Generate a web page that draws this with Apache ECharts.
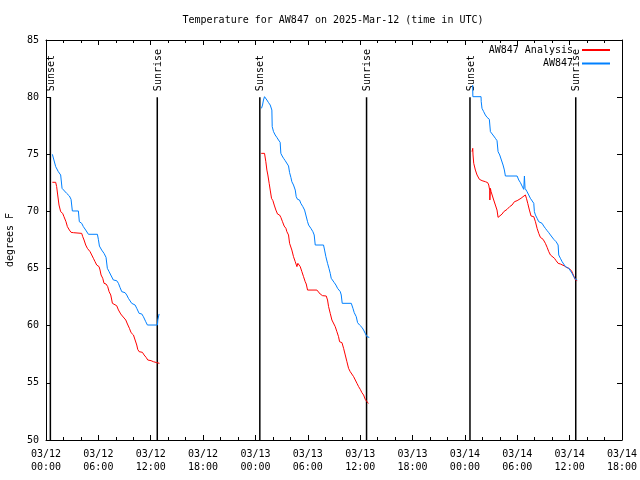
<!DOCTYPE html>
<html>
<head>
<meta charset="utf-8">
<script src="https://cdn.jsdelivr.net/npm/echarts@6/dist/echarts.min.js"></script>
<style>html,body{margin:0;padding:0;background:#fff}#c{width:640px;height:480px}</style>
</head>
<body>
<div id="c"></div>
<script>
// time in hours since 03/12 00:00 UTC, temperature in degrees F
var xTickLabels = ['03/12\n00:00','03/12\n06:00','03/12\n12:00','03/12\n18:00','03/13\n00:00','03/13\n06:00','03/13\n12:00','03/13\n18:00','03/14\n00:00','03/14\n06:00','03/14\n12:00','03/14\n18:00'];
var yTickLabels = ['50','55','60','65','70','75','80','85'];
var eventTimes = [0.5, 12.75, 24.5, 36.73, 48.58, 60.7];
var eventLabels = ['Sunset','Sunrise','Sunset','Sunrise','Sunset','Sunrise'];

var analysisN1 = [[0.73,72.55],[1.11,72.55],[1.22,72.17],[1.34,71.44],[1.49,70.56],[1.68,69.98],[1.91,69.83],[2.06,69.54],[2.29,69.10],[2.45,68.67],[2.68,68.37],[2.87,68.17],[3.14,68.14],[4.09,68.08],[4.21,67.79],[4.36,67.50],[4.55,67.06],[4.74,66.77],[5.05,66.48],[5.24,66.19],[5.43,65.90],[5.62,65.60],[5.81,65.31],[6.08,65.17],[6.19,64.88],[6.31,64.44],[6.50,64.15],[6.65,63.71],[6.88,63.65],[7.07,63.42],[7.23,62.98],[7.42,62.69],[7.61,61.96],[7.72,61.81],[8.10,61.75],[8.30,61.38],[8.56,61.03],[8.75,60.85],[8.95,60.79],[9.14,60.50],[9.33,60.15],[9.56,59.77],[9.75,59.39],[10.02,59.19],[10.21,58.75],[10.40,58.31],[10.51,57.93],[10.67,57.73],[11.05,57.67],[11.24,57.44],[11.47,57.23],[11.66,57.00],[12.04,56.94],[12.31,56.85],[12.69,56.77],[13.00,56.71]];
var observedN1 = [[0.73,75.0],[0.84,75.0],[1.11,73.92],[1.41,73.48],[1.68,73.19],[1.80,73.04],[1.84,72.02],[1.99,71.87],[2.37,71.58],[2.68,71.35],[2.87,71.06],[3.02,70.04],[3.71,70.04],[3.82,69.10],[4.09,68.96],[4.28,68.67],[4.55,68.37],[4.86,68.0],[5.89,68.0],[6.00,67.56],[6.12,66.97],[6.38,66.62],[6.65,66.33],[6.88,65.98],[7.03,65.02],[7.23,64.73],[7.42,64.44],[7.72,64.0],[8.10,63.94],[8.30,63.71],[8.49,63.33],[8.68,62.98],[9.06,62.89],[9.25,62.69],[9.44,62.40],[9.82,61.96],[10.21,61.81],[10.40,61.52],[10.67,61.08],[10.97,61.03],[11.16,60.79],[11.43,60.35],[11.62,60.06],[12.77,60.06],[12.81,60.50],[12.96,61.03]];

var analysisN2 = [[24.66,75.08],[25.04,75.08],[25.19,74.35],[25.31,73.62],[25.42,73.19],[25.57,72.46],[25.69,71.87],[25.84,71.15],[26.00,70.94],[26.15,70.56],[26.34,70.12],[26.53,69.77],[26.76,69.69],[26.91,69.48],[27.10,69.10],[27.29,68.72],[27.49,68.52],[27.60,68.23],[27.79,67.94],[27.91,67.21],[28.06,67.06],[28.17,66.62],[28.36,66.04],[28.56,65.60],[28.75,65.17],[28.86,65.46],[29.01,65.60],[29.13,65.17],[29.32,64.73],[29.51,64.29],[29.70,63.85],[29.82,63.65],[29.97,63.12],[31.04,63.12],[31.23,62.98],[31.42,62.77],[31.69,62.63],[32.11,62.60],[32.26,62.25],[32.38,61.67],[32.57,61.08],[32.76,60.50],[32.95,60.35],[33.14,59.92],[33.33,59.48],[33.52,59.04],[33.64,58.60],[33.91,58.52],[34.10,58.02],[34.29,57.44],[34.48,56.85],[34.67,56.27],[34.86,55.98],[35.06,55.83],[35.25,55.54],[35.44,55.25],[35.63,54.96],[35.82,54.67],[36.01,54.43],[36.20,54.14],[36.39,53.94],[36.58,53.56],[36.77,53.35],[36.96,53.21]];
var observedN2 = [[24.69,79.02],[24.75,79.02],[24.81,79.31],[24.92,79.75],[25.04,80.04],[25.31,79.75],[25.50,79.52],[25.69,79.31],[25.88,78.87],[25.92,77.42],[26.07,76.98],[26.26,76.69],[26.45,76.48],[26.64,76.25],[26.83,76.05],[26.91,75.08],[27.06,74.85],[27.22,74.65],[27.41,74.44],[27.60,74.27],[27.79,73.98],[27.91,73.40],[28.06,72.98],[28.17,72.60],[28.36,72.31],[28.56,71.87],[28.67,71.29],[28.82,71.06],[29.05,71.00],[29.20,70.71],[29.43,70.42],[29.63,70.12],[29.82,69.98],[29.97,69.10],[30.09,68.81],[30.35,68.52],[30.58,68.23],[30.73,67.94],[30.85,67.06],[31.80,67.06],[31.92,66.62],[32.07,66.04],[32.26,65.46],[32.42,65.02],[32.57,64.58],[32.68,64.15],[32.84,64.00],[33.03,63.77],[33.22,63.56],[33.41,63.27],[33.72,62.98],[33.83,62.69],[33.94,61.96],[34.98,61.96],[35.17,61.52],[35.32,61.14],[35.55,60.79],[35.70,60.27],[35.93,60.06],[36.20,59.86],[36.39,59.62],[36.58,59.33],[36.77,59.04],[37.04,58.98]];

var analysisN3 = [[48.82,75.23],[48.90,75.52],[48.93,74.94],[49.01,74.21],[49.20,73.62],[49.39,73.19],[49.66,72.81],[49.97,72.69],[50.35,72.60],[50.61,72.52],[50.73,72.31],[50.84,71.87],[50.86,71.00],[50.92,72.02],[51.00,71.73],[51.11,71.58],[51.30,71.00],[51.49,70.56],[51.68,70.12],[51.80,69.48],[51.99,69.48],[52.26,69.77],[52.45,69.98],[52.64,70.12],[52.83,70.18],[53.13,70.42],[53.40,70.56],[53.67,70.85],[53.98,70.94],[54.17,71.06],[54.43,71.15],[54.66,71.29],[54.93,71.44],[55.05,71.15],[55.20,70.71],[55.39,70.12],[55.58,69.60],[55.89,69.54],[56.08,69.10],[56.27,68.52],[56.46,68.08],[56.65,67.73],[56.96,67.56],[57.22,67.21],[57.42,66.86],[57.61,66.48],[57.80,66.19],[57.99,66.04],[58.26,65.90],[58.45,65.69],[58.68,65.46],[58.94,65.40],[59.14,65.31],[59.40,65.23],[59.63,65.11],[59.90,65.02],[60.21,64.82],[60.47,64.35],[60.67,64.00],[60.86,63.94]];
var observedN3 = [[48.89,81.06],[48.91,80.04],[49.85,80.04],[49.87,79.60],[49.96,79.02],[50.15,78.73],[50.34,78.44],[50.54,78.23],[50.80,78.06],[50.92,76.98],[51.11,76.83],[51.30,76.60],[51.49,76.40],[51.68,76.19],[51.80,75.23],[51.99,74.94],[52.18,74.50],[52.37,74.06],[52.52,73.63],[52.64,73.10],[53.98,73.10],[54.17,72.75],[54.36,72.52],[54.55,72.22],[54.74,71.93],[54.82,73.10],[54.89,72.02],[55.12,71.73],[55.31,71.44],[55.50,71.15],[55.70,71.00],[55.89,70.71],[55.96,69.98],[56.08,69.69],[56.27,69.40],[56.46,69.10],[56.65,69.02],[56.84,68.96],[57.03,68.72],[57.22,68.52],[57.42,68.32],[57.61,68.14],[57.80,67.94],[57.99,67.79],[58.18,67.56],[58.45,67.35],[58.68,67.06],[58.75,66.19],[58.94,65.90],[59.14,65.60],[59.33,65.46],[59.52,65.17],[59.71,65.02],[59.90,65.02],[60.09,64.88],[60.28,64.58],[60.47,64.29],[60.67,64.06],[60.86,64.00]];

var FONT = 'DejaVu Sans Mono';
var RED = '#ff0000', BLUE = '#0080ff';

function lineSeries(name, data, color) {
  return {
    type: 'line', name: name, data: data, color: color,
    showSymbol: false, symbol: 'none', animation: false,
    lineStyle: { color: color, width: 1 }, z: 3
  };
}

var chart = echarts.init(document.getElementById('c'), null, { renderer: 'canvas' });

var xCommon = {
  type: 'value', min: 0, max: 66, interval: 6,
  axisLine: { show: true, onZero: false, lineStyle: { color: '#000', width: 1 } },
  axisTick: { show: true, inside: true, length: 5, lineStyle: { color: '#000' } },
  minorTick: { show: true, splitNumber: 3, length: 3, lineStyle: { color: '#000' } },
  splitLine: { show: false }, minorSplitLine: { show: false }
};
var yCommon = {
  type: 'value', min: 50, max: 85, interval: 5,
  axisLine: { show: true, onZero: false, lineStyle: { color: '#000', width: 1 } },
  axisTick: { show: true, inside: true, length: 5, lineStyle: { color: '#000' } },
  splitLine: { show: false }
};

var option = {
  backgroundColor: '#fff',
  animation: false,
  textStyle: { fontFamily: FONT },
  title: {
    text: 'Temperature for AW847 on 2025-Mar-12 (time in UTC)',
    left: 328, top: 10, textAlign: 'center',
    textStyle: { fontFamily: FONT, fontSize: 10, fontWeight: 'normal', color: '#000' }
  },
  legend: {
    orient: 'vertical', right: 25, top: 39, align: 'right',
    itemWidth: 28, itemHeight: 2, itemGap: 1.5, icon: 'rect',
    data: ['AW847 Analysis', 'AW847'],
    textStyle: { fontFamily: FONT, fontSize: 10, color: '#000', lineHeight: 12, padding: [0, 4, 0, 0] },
    selectedMode: false
  },
  grid: { left: 46, right: 18, top: 40, bottom: 40, containLabel: false, outerBoundsMode: 'none' },
  xAxis: [
    Object.assign({}, xCommon, {
      position: 'bottom',
      axisLabel: {
        show: true, margin: 8, fontFamily: FONT, fontSize: 10, color: '#000', lineHeight: 13,
        formatter: function (v) { return xTickLabels[Math.round(v / 6)]; }
      }
    }),
    Object.assign({}, xCommon, { position: 'top', axisLabel: { show: false } })
  ],
  yAxis: [
    Object.assign({}, yCommon, {
      position: 'left',
      name: 'degrees F', nameLocation: 'middle', nameGap: 31, nameRotate: 90,
      nameTextStyle: { fontFamily: FONT, fontSize: 10, color: '#000' },
      axisLabel: {
        show: true, margin: 7, fontFamily: FONT, fontSize: 10, color: '#000',
        formatter: function (v) { return yTickLabels[Math.round((v - 50) / 5)]; }
      }
    }),
    Object.assign({}, yCommon, { position: 'right', axisLabel: { show: false } })
  ],
  series: [
    {
      type: 'custom', name: 'events', silent: true, z: 2,
      data: eventTimes.map(function (t, i) { return [t, 80, i]; }),
      encode: { x: 0, y: 1 },
      renderItem: function (params, api) {
        var t = api.value(0);
        var p0 = api.coord([t, 50]);
        var p1 = api.coord([t, api.value(1)]);
        var label = eventLabels[api.value(2)];
        return {
          type: 'group',
          children: [
            { type: 'line', shape: { x1: p0[0], y1: p0[1], x2: p1[0], y2: p1[1] },
              style: { stroke: '#000', lineWidth: 1.5 } },
            { type: 'text', x: p1[0] + 1, y: p1[1] - 6, rotation: Math.PI / 2,
              style: { text: label, fill: '#000', font: '10px ' + FONT, align: 'left', verticalAlign: 'middle' } }
          ]
        };
      }
    },
    lineSeries('AW847 Analysis', analysisN1, RED),
    lineSeries('AW847 Analysis', analysisN2, RED),
    lineSeries('AW847 Analysis', analysisN3, RED),
    lineSeries('AW847', observedN1, BLUE),
    lineSeries('AW847', observedN2, BLUE),
    lineSeries('AW847', observedN3, BLUE)
  ]
};
chart.setOption(option);
</script>
</body>
</html>
